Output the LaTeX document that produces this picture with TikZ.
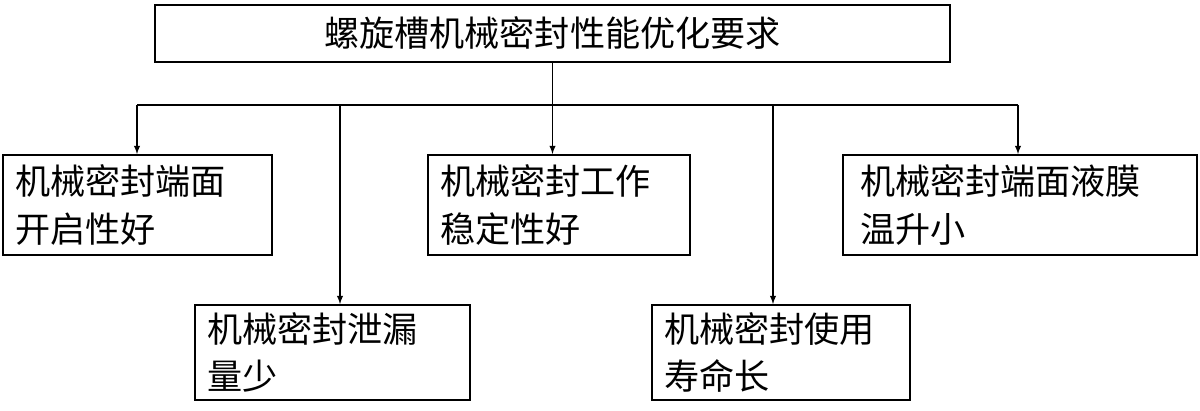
\documentclass[tikz,border=0pt]{standalone}
\usepackage{fontspec}
\newfontfamily\cjk{Noto Sans CJK SC}
\usetikzlibrary{positioning}
\tikzset{
  box/.style={draw, line width=1.1pt, rectangle, align=left, inner sep=0pt,
    font=\cjk\fontsize{20}{27}\selectfont},
  link/.style={->, >=latex, line width=0.6pt}
}
\begin{document}
\begin{tikzpicture}[x=0.02cm,y=-0.02cm]
\useasboundingbox (0,0) rectangle (1200,411);
%Kopfknoten
\node[box, minimum width=795*0.02cm, minimum height=57*0.02cm] (top) at (552.5,33.5) {螺旋槽机械密封性能优化要求};

%obere Reihe
\node[box, minimum width=269*0.02cm, minimum height=100*0.02cm, text width=245*0.02cm] (open) at (137.5,205) {机械密封端面\\开启性好};
\node[box, minimum width=262*0.02cm, minimum height=100*0.02cm, text width=238*0.02cm] (stab) at (559,205) {机械密封工作\\稳定性好};
\node[box, minimum width=354*0.02cm, minimum height=100*0.02cm, text width=320*0.02cm] (temp) at (1020,205) {机械密封端面液膜\\温升小};

%untere Reihe
\node[box, minimum width=275*0.02cm, minimum height=95*0.02cm, text width=251*0.02cm] (leak) at (332.5,352.5) {机械密封泄漏\\量少};
\node[box, minimum width=258*0.02cm, minimum height=95*0.02cm, text width=234*0.02cm] (life) at (781,352.5) {机械密封使用\\寿命长};

%Verbindungen
\coordinate (jL) at (137,105);
\coordinate (jR) at (1018,105);
\coordinate (j4) at (340,105);
\coordinate (j5) at (773,105);
\draw[line width=0.6pt] (top.south) -- (top.south |- jL);
\draw[line width=0.6pt] (jL) -- (jR);
\draw[link] (jL) -- (jL |- open.north);
\draw[link] (top.south |- jL) -- (top.south |- stab.north);
\draw[link] (jR) -- (jR |- temp.north);
\draw[link] (j4) -- (j4 |- leak.north);
\draw[link] (j5) -- (j5 |- life.north);
\end{tikzpicture}
\end{document}
